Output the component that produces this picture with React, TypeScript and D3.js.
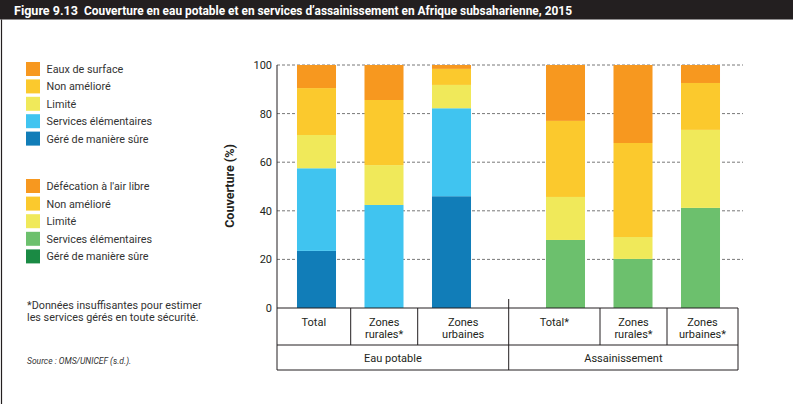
import React from "react";
import * as d3 from "d3";

const W = 793;
const H = 404;

const titleNum = "Figure 9.13";
const title = "Couverture en eau potable et en services d\u2019assainissement en Afrique subsaharienne, 2015";

const waterKeys = ["Géré de manière sûre", "Services élémentaires", "Limité", "Non amélioré", "Eaux de surface"];
const sanKeys = ["Géré de manière sûre", "Services élémentaires", "Limité", "Non amélioré", "Défécation à l'air libre"];
const waterColors = ["#117db8", "#40c4f0", "#f0e95a", "#fbc92d", "#f7981f"];
const sanColors = ["#1a8a44", "#6cc06d", "#f0e95a", "#fbc92d", "#f7981f"];

const waterCats = ["Total", "Zones rurales*", "Zones urbaines"];
const sanCats = ["Total*", "Zones rurales*", "Zones urbaines*"];
const groupLabels = ["Eau potable", "Assainissement"];

// order: géré, élémentaires, limité, non amélioré, surface/défécation
const waterTotal = [23.5, 34, 13.7, 19.3, 9.5];
const waterRural = [0, 42.4, 16.4, 26.8, 14.4];
const waterUrban = [46, 36.2, 9.6, 6.6, 1.6];
const sanTotal = [0, 28, 17.7, 31.3, 23];
const sanRural = [0, 20.2, 9, 38.7, 32.1];
const sanUrban = [0, 41.2, 32.1, 19.3, 7.4];

const yTicks = [0, 20, 40, 60, 80, 100];
const footnote = ["*Données insuffisantes pour estimer", "les services gérés en toute sécurité."];
const source = "Source : OMS/UNICEF (s.d.).";

const FONT = "Roboto, 'Noto Sans', sans-serif";
const INK = "#231f20";

type Row = { cat: string; vals: number[] };

function stackRows(rows: Row[]) {
  const data = rows.map((r) => {
    const o: any = { cat: r.cat };
    r.vals.forEach((v, i) => (o["k" + i] = v));
    return o;
  });
  return d3.stack<any>().keys([0, 1, 2, 3, 4].map((i) => "k" + i))(data);
}

export default function App() {
  const y = d3.scaleLinear().domain([0, 100]).range([308, 65]);
  const xW = d3.scaleBand().domain(waterCats).range([282.75, 485.25]).paddingInner(0.422).paddingOuter(0.211);
  const xS = d3.scaleBand().domain(sanCats).range([531.75, 734.25]).paddingInner(0.422).paddingOuter(0.211);

  const wStack = stackRows([
    { cat: waterCats[0], vals: waterTotal },
    { cat: waterCats[1], vals: waterRural },
    { cat: waterCats[2], vals: waterUrban },
  ]);
  const sStack = stackRows([
    { cat: sanCats[0], vals: sanTotal },
    { cat: sanCats[1], vals: sanRural },
    { cat: sanCats[2], vals: sanUrban },
  ]);

  const axisX = 277;
  const gridEnd = 743;
  const colEdges = [277, 350.7, 417.7, 508.7, 600, 667, 738];
  const tableTop = 308;
  const tableMid = 345;
  const tableBot = 370;

  const legendRowsW = [...waterKeys].reverse();
  const legendColsW = [...waterColors].reverse();
  const legendRowsS = [...sanKeys].reverse();
  const legendColsS = [...sanColors].reverse();

  const cellLabels = [...waterCats, ...sanCats];

  return (
    <svg
      width={W}
      height={H}
      style={{ position: "absolute", left: 0, top: 0, background: "#fff" }}
      fontFamily={FONT}
    >
      <rect x={0} y={0} width={W} height={H} fill="#fff" />
      {/* title bar */}
      <rect x={0} y={0} width={W} height={19.5} fill={INK} />
      <text x={14} y={14.5} fill="#fff" fontSize={13} fontWeight={700} textLength={64} lengthAdjust="spacingAndGlyphs">
        {titleNum}
      </text>
      <text x={84} y={14.5} fill="#fff" fontSize={13} fontWeight={700} textLength={488} lengthAdjust="spacingAndGlyphs">
        {title}
      </text>
      {/* left frame line */}
      <line x1={1.5} x2={1.5} y1={19.5} y2={H} stroke={INK} strokeWidth={1.2} />

      {/* legends */}
      {legendRowsW.map((k, i) => (
        <g key={"lw" + i} transform={`translate(26,${62 + i * 17.4})`}>
          <rect width={14} height={14} fill={legendColsW[i]} />
          <text x={20.5} y={11} fontSize={10.8} fill="#333">{k}</text>
        </g>
      ))}
      {legendRowsS.map((k, i) => (
        <g key={"ls" + i} transform={`translate(26,${179 + i * 17.6})`}>
          <rect width={14} height={14} fill={legendColsS[i]} />
          <text x={20.5} y={11} fontSize={10.8} fill="#333">{k}</text>
        </g>
      ))}

      {/* footnote */}
      {footnote.map((t, i) => (
        <text key={"fn" + i} x={27} y={309 + i * 12} fontSize={10.8} fill="#333">{t}</text>
      ))}
      <text x={27} y={364} fontSize={8.5} fontStyle="italic" fill="#333">{source}</text>

      {/* grid */}
      {yTicks.filter((t) => t > 0).map((t) => (
        <line key={"g" + t} x1={axisX} x2={gridEnd} y1={y(t)} y2={y(t)} stroke="#555" strokeWidth={0.8} strokeDasharray="3,2" />
      ))}
      {yTicks.map((t) => (
        <text key={"t" + t} x={272} y={y(t) + 4} fontSize={11} textAnchor="end" fill={INK}>{t}</text>
      ))}
      <text
        transform={`translate(234,${186}) rotate(-90)`}
        fontSize={12.5}
        fontWeight={700}
        textAnchor="middle"
        fill={INK}
      >
        Couverture (%)
      </text>

      {/* bars */}
      {wStack.map((layer, li) =>
        layer.map((d: any, j: number) => (
          <rect
            key={`w${li}-${j}`}
            x={xW(d.data.cat)!}
            width={xW.bandwidth()}
            y={y(d[1])}
            height={Math.max(0, y(d[0]) - y(d[1]))}
            fill={waterColors[li]}
          />
        ))
      )}
      {sStack.map((layer, li) =>
        layer.map((d: any, j: number) => (
          <rect
            key={`s${li}-${j}`}
            x={xS(d.data.cat)!}
            width={xS.bandwidth()}
            y={y(d[1])}
            height={Math.max(0, y(d[0]) - y(d[1]))}
            fill={sanColors[li]}
          />
        ))
      )}

      {/* axis + table */}
      <line x1={axisX} x2={axisX} y1={y(100)} y2={tableBot} stroke={INK} strokeWidth={1} />
      <line x1={axisX} x2={colEdges[6]} y1={tableTop} y2={tableTop} stroke={INK} strokeWidth={1} />
      <line x1={axisX} x2={colEdges[6]} y1={tableMid} y2={tableMid} stroke={INK} strokeWidth={1} />
      <line x1={axisX} x2={colEdges[6]} y1={tableBot} y2={tableBot} stroke={INK} strokeWidth={1} />
      {colEdges.slice(1).map((cx, i) => (
        <line
          key={"c" + i}
          x1={cx}
          x2={cx}
          y1={cx === colEdges[3] ? 299 : tableTop}
          y2={cx === colEdges[3] || cx === colEdges[6] ? tableBot : tableMid}
          stroke={INK}
          strokeWidth={1}
        />
      ))}
      {cellLabels.map((lab, i) => {
        const cx = (colEdges[i] + colEdges[i + 1]) / 2;
        const parts = lab.split(" ");
        return (
          <text key={"cl" + i} x={cx} textAnchor="middle" fontSize={11} fill={INK}>
            {parts.length === 1 ? (
              <tspan x={cx} y={325.5}>{lab}</tspan>
            ) : (
              parts.map((p, k) => (
                <tspan key={k} x={cx} y={325.5 + k * 12.8}>{p}</tspan>
              ))
            )}
          </text>
        );
      })}
      {groupLabels.map((g, i) => {
        const cx = i === 0 ? (colEdges[0] + colEdges[3]) / 2 : (colEdges[3] + colEdges[6]) / 2;
        return (
          <text key={"gl" + i} x={cx} y={362} textAnchor="middle" fontSize={11} fill={INK}>{g}</text>
        );
      })}
    </svg>
  );
}
